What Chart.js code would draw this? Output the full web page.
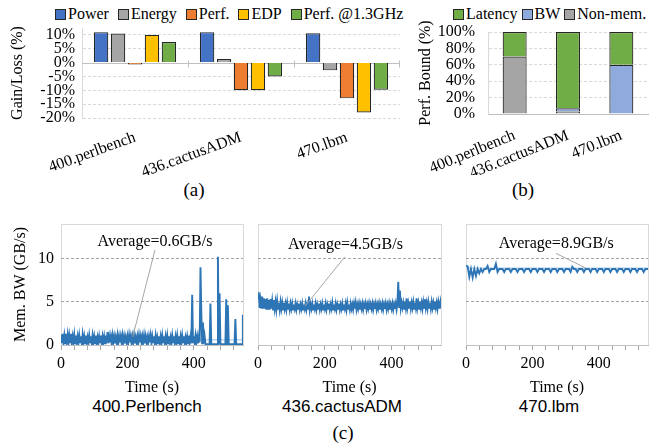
<!DOCTYPE html>
<html>
<head>
<meta charset="utf-8">
<script src="https://cdn.jsdelivr.net/npm/chart.js@4.4.1/dist/chart.umd.min.js"></script>
<style>
  body { margin: 0; background: #fff; }
  #page { position: relative; width: 650px; height: 445px; overflow: hidden; font-family: "Liberation Serif", serif; color: #000; }
  canvas { position: absolute; }
  .legend { position: absolute; top: 5px; display: flex; align-items: center; font-size: 16px; white-space: nowrap; }
  .legend .item { display: flex; align-items: center; margin-right: 9px; }
  #legendB .item { margin-right: 4px; }
  .legend i { display: inline-block; width: 9px; height: 9px; border: 1px solid #262626; margin-right: 2px; }
  .cap { position: absolute; transform: translate(-50%, -50%); white-space: nowrap; }
  .bench { font-family: "Liberation Sans", sans-serif; font-size: 17px; }
  .panel { font-size: 19px; }
</style>
</head>
<body>
<div id="page">
  <div class="legend" id="legendA" style="left:55px"></div>
  <div class="legend" id="legendB" style="left:453px"></div>
  <canvas id="chartA" width="400" height="175" style="left:0;top:0"></canvas>
  <canvas id="chartB" width="250" height="175" style="left:400px;top:0"></canvas>
  <div class="cap panel" style="left:194px;top:190px">(a)</div>
  <div class="cap panel" style="left:523px;top:190px">(b)</div>
  <canvas id="chartC1" width="250" height="192" style="left:0;top:205px"></canvas>
  <canvas id="chartC2" width="200" height="192" style="left:250px;top:205px"></canvas>
  <canvas id="chartC3" width="200" height="192" style="left:450px;top:205px"></canvas>
  <div class="cap bench" style="left:147px;top:407px">400.Perlbench</div>
  <div class="cap bench" style="left:342px;top:407px">436.cactusADM</div>
  <div class="cap bench" style="left:549px;top:407px">470.lbm</div>
  <div class="cap panel" style="left:343px;top:433px">(c)</div>
</div>
<script>
// (a) gain / loss per benchmark, in %
const benchmarks = ["400.perlbench", "436.cactusADM", "470.lbm"];
const gainNames = ["Power", "Energy", "Perf.", "EDP", "Perf. @1.3GHz"];
const gainColors = ["#4472C4", "#A5A5A5", "#ED7D31", "#FFC000", "#70AD47"];
const powerGain = [11.0, 11.0, 10.6];
const energyGain = [10.5, 1.3, -2.8];
const perfGain = [-0.7, -10.0, -12.9];
const edpGain = [10.0, -10.0, -18.0];
const perf13Gain = [7.4, -5.0, -9.8];
const gainTicks = [-20, -15, -10, -5, 0, 5, 10];

// (b) performance bound breakdown, in %
const boundNames = ["Latency", "BW", "Non-mem."];
const boundColors = ["#70AD47", "#8FAADC", "#A5A5A5"];
const latencyBound = [30, 93, 40];
const bwBound = [0, 4, 60];
const nonMemBound = [70, 3, 0];
const boundTicks = [0, 20, 40, 60, 80, 100];

// (c) memory bandwidth traces, GB/s
const timeMax = 548;
const timeTicks = [0, 40, 80, 120, 160, 200, 240, 280, 320, 360, 400, 440, 480, 520];
const timeLabels = [0, 200, 400];
const bwTicks = [0, 5, 10];

const perlbenchStep = 2.5; // s between samples
const perlbenchBW = [
  1.2, 0.2, 1.3, 0.3, 1.1, 0.2, 1.3, 0.4, 1.2, 0.2, 1.1, 0.3, 1.3, 0.2, 1.0, 0.3, 1.2, 0.2, 1.1, 0.3,
  1.0, 0.2, 1.1, 0.3, 1.0, 0.2, 1.2, 0.3, 1.0, 0.2, 1.1, 0.3, 0.9, 0.2, 1.1, 0.3, 1.0, 0.2, 1.1, 0.3,
  1.0, 0.2, 1.1, 0.3, 0.9, 0.2, 1.0, 0.3, 1.1, 0.2, 1.0, 0.3, 1.0, 0.2, 1.1, 0.3, 1.5, 0.2, 1.0, 0.3,
  1.0, 0.2, 1.1, 0.3, 1.0, 0.2, 0.9, 0.3, 1.1, 0.2, 1.0, 0.3, 1.0, 0.2, 1.1, 0.3, 1.0, 0.2, 0.9, 0.3,
  1.0, 0.2, 1.1, 0.3, 1.0, 0.2, 1.0, 0.3, 1.1, 0.2, 0.9, 0.3, 1.0, 0.2, 1.1, 0.3, 1.0, 0.2, 1.0, 0.3,
  1.1, 0.2, 1.0, 0.3, 0.9, 0.2, 1.0, 0.3, 1.1, 0.2, 1.0, 0.3, 1.0, 0.2, 1.1, 0.3, 0.9, 0.2, 1.0, 0.3,
  1.0, 0.2, 1.1, 0.3, 1.0, 0.2, 1.0, 0.3, 1.1, 0.2, 1.0, 0.3, 0.9, 0.2, 1.1, 0.3, 1.0, 0.2, 1.0, 0.3,
  1.1, 0.2, 1.0, 0.3, 1.0, 0.2, 1.1, 0.3, 1.0, 0.2, 0.9, 0.3, 1.0, 0.2, 1.1, 0.3, 1.0, 0.2, 5.8, 0.3,
  1.0, 0.2, 1.1, 0.3, 1.0, 0.2, 1.0, 0.3, 9.0, 3.7, 0.2, 2.6, 0.2, 1.0, 0.1, 0.1, 0.1, 0.1, 0.1, 0.1,
  4.8, 0.1, 0.1, 0.1, 0.1, 0.1, 0.1, 0.1, 0.1, 10.2, 0.1, 6.0, 0.1, 0.1, 0.1, 0.1, 0.1, 0.1, 0.1, 5.3,
  0.1, 4.6, 0.1, 0.1, 0.1, 0.1, 0.1, 0.1, 0.1, 0.1, 3.0, 0.1, 0.1, 0.1, 0.1, 0.1, 0.1, 0.1, 0.1, 3.4,
  3.4
];
const cactusStep = 2.5;
const cactusBW = [
  5.4, 6.1, 4.3, 5.2, 4.2, 5.6, 4.3, 5.4, 4.2, 5.3, 4.1, 5.4, 4.2, 5.2, 4.1, 5.3, 4.2, 5.1, 4.1, 5.2,
  4.2, 5.0, 4.1, 5.1, 4.2, 4.9, 4.1, 5.0, 4.2, 4.9, 4.1, 4.9, 4.2, 4.8, 4.1, 4.9, 4.2, 4.8, 4.1, 4.8,
  4.2, 4.8, 4.1, 4.7, 4.2, 4.8, 4.1, 4.7, 4.2, 4.8, 4.1, 4.7, 4.2, 4.8, 4.1, 4.7, 4.2, 4.8, 4.1, 4.7,
  4.2, 5.6, 4.1, 4.7, 4.2, 4.8, 4.1, 4.7, 4.2, 4.8, 4.1, 4.7, 4.2, 4.8, 4.1, 4.7, 4.2, 4.8, 4.1, 4.7,
  4.2, 4.8, 4.1, 4.7, 4.2, 4.8, 4.1, 4.7, 4.2, 4.9, 4.1, 4.7, 4.2, 4.8, 4.1, 4.7, 4.2, 4.8, 4.1, 4.7,
  4.2, 4.8, 4.1, 4.7, 4.2, 4.8, 4.1, 4.9, 4.2, 4.7, 4.1, 4.8, 4.2, 4.7, 4.1, 4.8, 4.2, 4.9, 4.1, 4.7,
  4.2, 4.8, 4.1, 4.7, 4.2, 4.8, 4.1, 4.7, 4.2, 4.8, 4.1, 4.7, 4.2, 4.8, 4.1, 4.7, 4.2, 4.8, 4.1, 4.7,
  4.2, 4.8, 4.1, 4.7, 4.2, 4.8, 4.1, 4.7, 4.2, 4.8, 4.1, 4.7, 4.2, 4.8, 4.1, 4.7, 4.2, 4.8, 4.1, 4.7,
  4.2, 4.8, 4.1, 4.7, 4.2, 4.8, 4.1, 4.8, 7.3, 4.4, 6.3, 4.3, 4.9, 4.3, 4.9, 4.2, 5.0, 4.3, 5.4, 4.3,
  4.9, 4.3, 5.0, 4.2, 4.9, 4.3, 5.0, 4.2, 4.9, 4.3, 5.4, 4.3, 4.9, 4.2, 5.0, 4.3, 4.9, 4.2, 5.0, 4.3,
  5.3, 4.3, 4.9, 4.2, 5.0, 4.3, 4.9, 4.2, 5.0, 4.3, 4.9, 4.2, 5.0, 4.3, 4.9, 4.2, 5.0, 4.3, 4.9, 5.3,
  4.4
];
const lbmStep = 5;
const lbmBW = [
  9.2, 9.1, 7.9, 8.8, 7.8, 8.8, 8.0, 8.8, 8.3, 8.8,
  8.45, 8.8, 8.8, 9.15, 8.45, 8.8, 8.8, 8.8, 9.4, 8.45,
  8.8, 8.8, 8.8, 8.45, 8.8, 8.8, 8.8, 8.45, 8.8, 8.8,
  8.8, 8.45, 8.8, 8.8, 8.8, 8.45, 8.8, 8.8, 8.8, 8.45,
  8.8, 8.8, 8.8, 8.45, 8.8, 8.8, 8.8, 8.45, 8.8, 8.8,
  8.8, 8.45, 8.8, 8.8, 8.8, 8.45, 8.8, 8.8, 8.8, 8.45,
  8.8, 8.8, 8.8, 8.45, 9.05, 8.8, 8.8, 8.45, 8.8, 8.8,
  8.8, 8.45, 8.8, 8.8, 8.8, 8.45, 8.8, 8.8, 8.8, 8.45,
  8.8, 8.8, 8.8, 8.45, 8.8, 8.8, 8.8, 8.45, 8.8, 8.8,
  8.8, 8.45, 8.8, 8.8, 8.8, 8.45, 8.8, 8.8, 8.8, 8.45,
  8.8, 8.8, 8.8, 8.45, 8.8, 8.8, 8.8, 8.45, 8.8, 8.8,
  8.8
];
const averageBW = [0.6, 4.5, 8.9];

const serif = "'Liberation Serif', 'Times New Roman', serif";
Chart.defaults.font.family = serif;
Chart.defaults.font.size = 16;
Chart.defaults.color = "#000";

const font16 = { family: serif, size: 16, weight: "normal" };
const toPoints = (arr, step) => arr.map((v, i) => ({ x: i * step, y: v }));
const fixedTicks = list => s => { s.ticks = list.map(v => ({ value: v })); };

function buildLegend(id, names, colors) {
  const el = document.getElementById(id);
  names.forEach((n, i) => {
    const item = document.createElement("span");
    item.className = "item";
    item.innerHTML = '<i style="background:' + colors[i] + '"></i>' + n;
    el.appendChild(item);
  });
}
buildLegend("legendA", gainNames, gainColors);
buildLegend("legendB", boundNames, boundColors);

// zero line with category separators, like the Excel horizontal axis
const zeroLine = {
  id: "zeroLine",
  beforeDatasetsDraw(chart) {
    const { ctx, chartArea, scales: { x, y } } = chart;
    const y0 = Math.round(y.getPixelForValue(0)) + 0.5;
    ctx.save();
    ctx.strokeStyle = "#bfbfbf";
    ctx.lineWidth = 1;
    ctx.beginPath();
    ctx.moveTo(chartArea.left, y0);
    ctx.lineTo(chartArea.right, y0);
    const n = x.ticks.length;
    for (let i = 1; i <= n; i++) {
      const bx = i < n ? (x.getPixelForTick(i - 1) + x.getPixelForTick(i)) / 2 : chartArea.right - 1;
      ctx.moveTo(Math.round(bx) + 0.5, y0 - 3);
      ctx.lineTo(Math.round(bx) + 0.5, y0 + 4);
    }
    ctx.stroke();
    ctx.restore();
  }
};

// (a)
const gainData = [powerGain, energyGain, perfGain, edpGain, perf13Gain];
new Chart(document.getElementById("chartA"), {
  type: "bar",
  data: {
    labels: benchmarks,
    datasets: gainNames.map((name, i) => ({
      label: name,
      data: gainData[i],
      backgroundColor: gainColors[i],
      borderColor: "#262626",
      borderWidth: 1.2,
      categoryPercentage: 0.8,
      barPercentage: 0.85,
    })),
  },
  options: {
    responsive: false,
    animation: false,
    events: [],
    layout: { padding: { left: 8, top: 28, right: 0, bottom: 0 } },
    plugins: { legend: { display: false }, tooltip: { enabled: false } },
    scales: {
      x: {
        grid: { display: false },
        border: { display: false },
        ticks: { font: font16, minRotation: 20, maxRotation: 20, autoSkip: false, padding: 2 },
        afterFit: s => { s.height = 57; },
      },
      y: {
        min: -20,
        max: 12.5,
        afterBuildTicks: fixedTicks(gainTicks),
        ticks: { autoSkip: false, font: font16, padding: 7, callback: v => v + "%" },
        grid: { drawTicks: false, color: c => (c.tick && c.tick.value === 0 ? "rgba(0,0,0,0)" : "#d9d9d9") },
        border: { color: "#d9d9d9", dash: [3, 2] },
        title: { display: true, text: "Gain/Loss (%)", font: font16, padding: 0 },
        afterFit: s => { s.width = 74; },
      },
    },
  },
  plugins: [zeroLine],
});

// (b)
const boundData = [latencyBound, bwBound, nonMemBound];
new Chart(document.getElementById("chartB"), {
  type: "bar",
  data: {
    labels: benchmarks,
    // stacked bottom-up: Non-mem., BW, Latency
    datasets: [2, 1, 0].map(i => ({
      label: boundNames[i],
      data: boundData[i],
      backgroundColor: boundColors[i],
      borderColor: "#262626",
      borderWidth: 1.2,
      categoryPercentage: 0.9,
      barPercentage: 0.5,
    })),
  },
  options: {
    responsive: false,
    animation: false,
    events: [],
    layout: { padding: { left: 16, top: 32, right: 2, bottom: 0 } },
    plugins: { legend: { display: false }, tooltip: { enabled: false } },
    scales: {
      x: {
        stacked: true,
        grid: { display: false },
        border: { color: "#bfbfbf" },
        ticks: { font: font16, minRotation: 22, maxRotation: 22, autoSkip: false, padding: 4 },
        afterFit: s => { s.height = 61; },
      },
      y: {
        stacked: true,
        min: 0,
        max: 100,
        afterBuildTicks: fixedTicks(boundTicks),
        ticks: { autoSkip: false, font: font16, padding: 13, callback: v => v + "%" },
        grid: { drawTicks: false, color: c => (c.tick && c.tick.value === 0 ? "rgba(0,0,0,0)" : "#d9d9d9") },
        border: { color: "#d9d9d9", dash: [3, 2] },
        title: { display: true, text: "Perf. Bound (%)", font: font16, padding: 0 },
        afterFit: s => { s.width = 72; },
      },
    },
  },
});

// (c) helpers
const plotBox = {
  id: "plotBox",
  beforeDraw(chart) {
    const { ctx, chartArea: a } = chart;
    ctx.save();
    ctx.strokeStyle = "#d9d9d9";
    ctx.lineWidth = 1;
    ctx.strokeRect(Math.round(a.left) + 0.5, Math.round(a.top) + 0.5, Math.round(a.width), Math.round(a.height));
    ctx.restore();
  }
};

const callout = {
  id: "callout",
  afterDatasetsDraw(chart, args, opts) {
    const { ctx, scales: { x, y } } = chart;
    ctx.save();
    ctx.strokeStyle = "#a6a6a6";
    ctx.lineWidth = 1;
    ctx.beginPath();
    ctx.moveTo(x.getPixelForValue(opts.from[0]), y.getPixelForValue(opts.from[1]));
    ctx.lineTo(x.getPixelForValue(opts.to[0]), y.getPixelForValue(opts.to[1]));
    ctx.stroke();
    ctx.font = "16px " + serif;
    ctx.fillStyle = "#000";
    ctx.textAlign = "center";
    ctx.textBaseline = "middle";
    ctx.fillText(opts.text, x.getPixelForValue(opts.at[0]), y.getPixelForValue(opts.at[1]));
    ctx.restore();
  }
};

function bwChart(id, values, step, avg, note, showY, padLeft, padRight) {
  return new Chart(document.getElementById(id), {
    type: "line",
    data: {
      datasets: [
        {
          data: toPoints(values, step),
          borderColor: "#2E75B6",
          borderWidth: 1.9,
          pointRadius: 0,
          tension: 0,
          order: 1,
        },
        {
          data: [{ x: 0, y: avg }, { x: timeMax, y: avg }],
          borderColor: "#9DC3E6",
          borderWidth: 1,
          pointRadius: 0,
          order: 2,
        },
      ],
    },
    options: {
      responsive: false,
      animation: false,
      events: [],
      layout: { padding: { left: padLeft, top: 19, right: padRight, bottom: 0 } },
      plugins: { legend: { display: false }, tooltip: { enabled: false }, callout: note },
      scales: {
        x: {
          type: "linear",
          min: 0,
          max: timeMax,
          afterBuildTicks: fixedTicks(timeTicks),
          ticks: { autoSkip: false, maxRotation: 0, font: font16, padding: 4, callback: v => (timeLabels.includes(v) ? v : "") },
          grid: { drawOnChartArea: false, tickLength: 5, color: "#a6a6a6" },
          border: { color: "#bfbfbf" },
          title: { display: true, text: "Time (s)", font: font16, padding: 0 },
          afterFit: s => { s.height = 52; },
        },
        y: {
          min: 0,
          max: 14,
          afterBuildTicks: fixedTicks(bwTicks),
          ticks: { display: showY, autoSkip: false, font: font16, padding: 7 },
          grid: { drawTicks: false, color: c => (c.tick && c.tick.value > 0 ? "#a6a6a6" : "rgba(0,0,0,0)") },
          border: { display: false, dash: [3, 2] },
          title: { display: showY, text: "Mem. BW (GB/s)", font: font16, padding: 0 },
          afterFit: s => { s.width = showY ? 50 : 0; },
        },
      },
    },
    plugins: [plotBox, callout],
  });
}

bwChart("chartC1", perlbenchBW, perlbenchStep, averageBW[0],
  { text: "Average=" + averageBW[0] + "GB/s", at: [283, 11.9], from: [283, 11.0], to: [216, 0.95] }, true, 11, 7);
bwChart("chartC2", cactusBW, cactusStep, averageBW[1],
  { text: "Average=" + averageBW[1] + "GB/s", at: [262, 11.6], from: [260, 10.2], to: [141, 4.5] }, false, 8, 9);
bwChart("chartC3", lbmBW, lbmStep, averageBW[2],
  { text: "Average=" + averageBW[2] + "GB/s", at: [272, 11.7], from: [271, 10.6], to: [361, 8.9] }, false, 16, 2);
</script>
</body>
</html>
